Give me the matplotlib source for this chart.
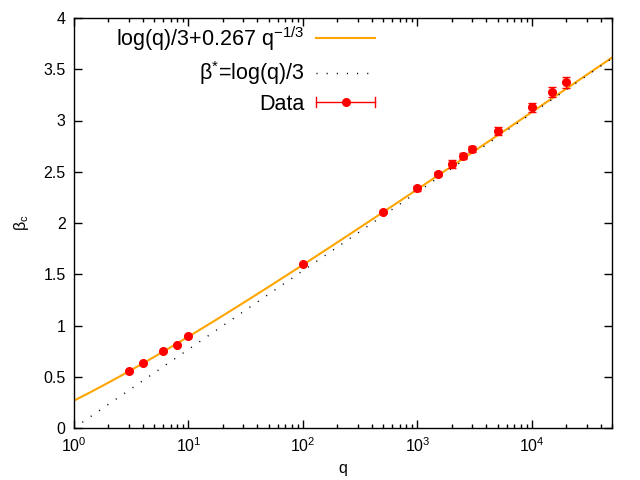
import numpy as np
import matplotlib
matplotlib.use("Agg")
import matplotlib.pyplot as plt
from matplotlib.ticker import LogLocator, NullFormatter, FixedLocator
from matplotlib.lines import Line2D
from matplotlib.legend_handler import HandlerBase

plt.rcParams['font.family'] = ['Liberation Sans', 'DejaVu Sans']
plt.rcParams['mathtext.fontset'] = 'custom'
plt.rcParams['mathtext.rm'] = 'Liberation Sans'
plt.rcParams['mathtext.it'] = 'Liberation Sans'

q_data = [3, 4, 6, 8, 10, 100, 500, 1000, 1500, 2000, 2500, 3000, 5000, 10000, 15000, 20000]
beta_data = [0.555, 0.632, 0.750, 0.810, 0.895, 1.600, 2.104, 2.338, 2.475, 2.575,
             2.653, 2.719, 2.897, 3.129, 3.275, 3.373]
beta_err = [0.0, 0.0, 0.0, 0.0, 0.0, 0.0, 0.01, 0.022, 0.02, 0.035,
            0.033, 0.03, 0.035, 0.045, 0.05, 0.055]

coef = 0.267
xmin, xmax = 1, 5e4
ymin, ymax = 0, 4
yticks = [0, 0.5, 1, 1.5, 2, 2.5, 3, 3.5, 4]
ytick_labels = ['0', '0.5', '1', '1.5', '2', '2.5', '3', '3.5', '4']

fig = plt.figure(figsize=(6.4, 4.8), dpi=100)
ax = fig.add_axes([74/640, 1-428/480, (612-74)/640, (428-18)/480])

qq = np.logspace(0, np.log10(xmax), 600)
ax.plot(qq, np.log(qq)/3 + coef*qq**(-1/3), color='#FFA500', lw=1.5,
        label=r'log(q)/3+0.267 q$^{-1/3}$')
ax.plot(qq, np.log(qq)/3, color='black', lw=1.0, linestyle=(0, (0.8, 6.5)),
        label=r'β$^{*}$=log(q)/3')
ax.errorbar(q_data, beta_data, yerr=beta_err, fmt='o', color='red', ms=5.5,
            ecolor='red', elinewidth=1.0, capsize=3.0, capthick=1.0,
            label='Data')

ax.set_xscale('log')
ax.set_xlim(xmin, xmax)
ax.set_ylim(ymin, ymax)
ax.yaxis.set_major_locator(FixedLocator(yticks))
ax.set_yticklabels(ytick_labels)
ax.xaxis.set_major_locator(LogLocator(base=10, numticks=10))
ax.xaxis.set_minor_locator(LogLocator(base=10, subs=np.arange(2, 10), numticks=20))
ax.xaxis.set_minor_formatter(NullFormatter())

ax.tick_params(which='both', direction='in', top=True, right=True, labelsize=11.5,
               width=1.0, pad=6)
ax.tick_params(which='major', length=6)
ax.tick_params(which='minor', length=3)
for s in ax.spines.values():
    s.set_linewidth(1.0)

ax.set_xlabel('q', fontsize=11.5, labelpad=4)
ax.set_ylabel(r'β$_{\rm c}$', fontsize=11.5, labelpad=9)


class HErrHandler(HandlerBase):
    def create_artists(self, legend, orig_handle, xdescent, ydescent, width, height, fontsize, trans):
        y = height / 2 - ydescent
        x0, x1 = -xdescent, -xdescent + width
        line = Line2D([x0, x1], [y, y], color='red', lw=1.0, transform=trans)
        c1 = Line2D([x0, x0], [y - 3.5, y + 3.5], color='red', lw=1.0, transform=trans)
        c2 = Line2D([x1, x1], [y - 3.5, y + 3.5], color='red', lw=1.0, transform=trans)
        m = Line2D([(x0 + x1) / 2], [y], marker='o', color='red', ms=5.5, transform=trans)
        return [line, c1, c2, m]


handles, labels = ax.get_legend_handles_labels()
data_handle = handles[2]
leg = ax.legend(handles, labels, loc='upper left', bbox_to_anchor=(0.042, 1.032),
                frameon=False, markerfirst=False, fontsize=15.5, handlelength=2.75,
                handletextpad=0.55, labelspacing=0.3,
                handler_map={data_handle: HErrHandler()})

fig.savefig('out.png', dpi=100)
